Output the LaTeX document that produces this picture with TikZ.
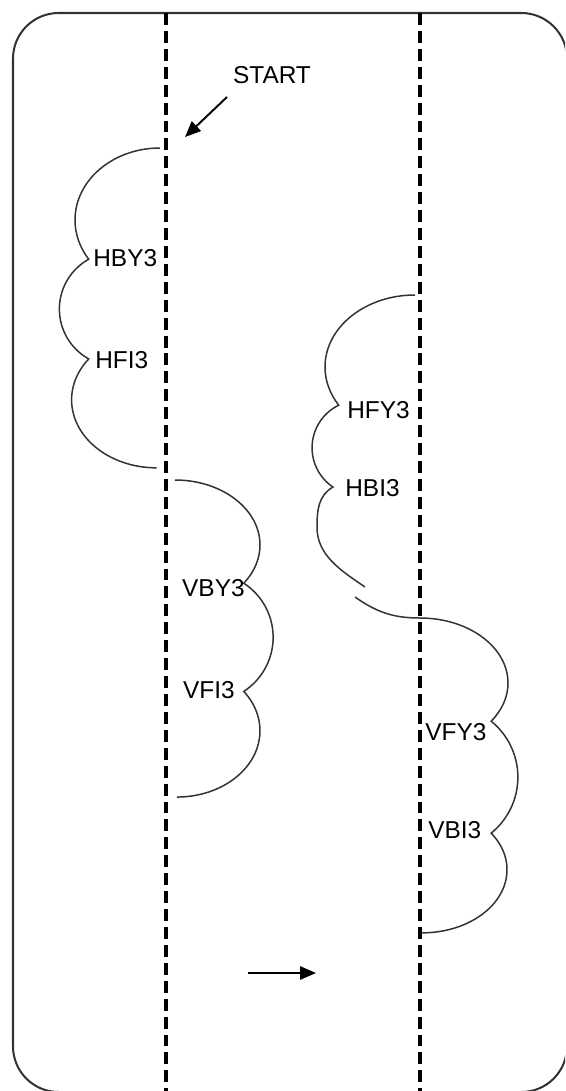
\documentclass[tikz,border=0pt]{standalone}
\usepackage{fontspec}
\setmainfont{Liberation Sans}
\usetikzlibrary{arrows.meta}
\tikzset{
  lane/.style={line width=2pt, dash pattern=on 6.8pt off 3.4pt},
  cloud/.style={line width=0.85pt, black!80},
  lab/.style={inner sep=0pt, font=\fontsize{13.9}{16}\selectfont},
  flow/.style={line width=1.1pt, -{Triangle[length=9pt,width=7.5pt]}}
}
\begin{document}
\begin{tikzpicture}[x=0.02cm, y=0.02cm]
        \useasboundingbox (0,0) rectangle (565,-1091);
        \clip (0,0) rectangle (565,-1091);
        \draw [line width=1.15pt, black!80, rounded corners=26pt] (13,-13) rectangle (567,-1092);
        \foreach \foo in {166,420}
        \draw [lane] (\foo,-13) -- (\foo,-1091);

        \draw [cloud] (160,-148) arc[start angle=90, end angle=213, x radius=85, y radius=72]
          arc[start angle=119, end angle=241, radius=57]
          arc[start angle=143, end angle=270, x radius=85, y radius=68];
        \draw [cloud] (175,-480) arc[start angle=90, end angle=-36, x radius=85, y radius=65]
          arc[start angle=57, end angle=-57, radius=64.5]
          arc[start angle=36.4, end angle=-90, x radius=83, y radius=66.3];
        \draw [cloud] (415,-295) arc[start angle=90, end angle=212, x radius=90, y radius=72]
          arc[start angle=116, end angle=236, radius=47.4]
          to[out=-150,in=90] (317,-527) .. controls (317,-555) and (340,-570) .. (365,-587);
        \draw [cloud] (355,-597) to[out=-35,in=180] (420,-618)
          arc[start angle=90, end angle=-36, x radius=88, y radius=65]
          arc[start angle=51, end angle=-51, radius=72]
          arc[start angle=35.5, end angle=-90, x radius=85, y radius=63.1];

        \node [lab] (start) at (272,-75) {START};
        \node [lab, anchor=west] (hby) at (93,-258) {HBY3};
        \node [lab, anchor=west] (hfi) at (95,-360) {HFI3};
        \node [lab, anchor=east] (vby) at (245,-588) {VBY3};
        \node [lab, anchor=east] (vfi) at (235,-690) {VFI3};
        \node [lab, anchor=west] (hfy) at (347,-410) {HFY3};
        \node [lab, anchor=west] (hbi) at (345,-488) {HBI3};
        \node [lab, anchor=west] (vfy) at (425,-732) {VFY3};
        \node [lab, anchor=west] (vbi) at (428,-830) {VBI3};

        \coordinate (st) at (227,-97);
        \coordinate (en) at (185,-137);
        \draw [flow] (st) -- (en);
        \coordinate (ft) at (248,-973);
        \coordinate (fh) at (316,-973);
        \draw [flow] (ft) -- (fh);
      \end{tikzpicture}
\end{document}
